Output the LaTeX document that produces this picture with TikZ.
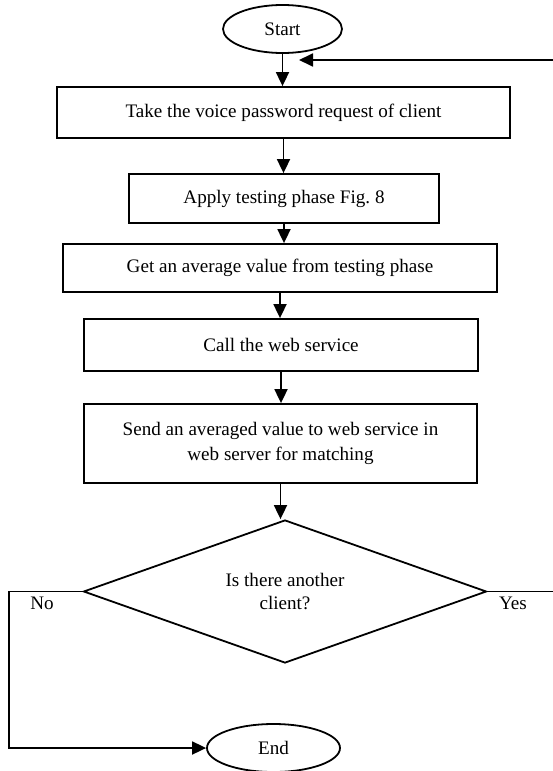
\documentclass[tikz,border=0pt]{standalone}
\usepackage{fontspec}
\setmainfont{Liberation Serif}
\usetikzlibrary{shapes.geometric,arrows.meta}
\tikzset{
  base/.style={draw=black, line width=1.8pt, inner sep=0pt, font=\fontsize{19.1}{25}\selectfont, align=center},
  term/.style={base, ellipse, minimum width=#1, minimum height=48pt},
  procbox/.style 2 args={base, rectangle, minimum width=#1, minimum height=#2},
  decision/.style={base, diamond, aspect=2.82, minimum width=403pt, minimum height=143pt, font=\fontsize{19.1}{23}\selectfont},
  conn/.style={line width=1.8pt, -{Triangle[length=14pt,width=13pt]}},
  lbl/.style={font=\fontsize{19.1}{24.5}\selectfont, inner sep=0pt}
}
\begin{document}
\begin{tikzpicture}[x=1pt,y=-1pt]
\useasboundingbox[fill=white] (0,0) rectangle (552,771);
\node[term=119pt] (start) at (282.5,29) {Start};
\node[procbox={453pt}{51pt}] (b1) at (283.5,112.5) {Take the voice password request of client};
\node[procbox={310pt}{49pt}] (b2) at (284,198.5) {Apply testing phase Fig.\ 8};
\node[procbox={434pt}{48pt}] (b3) at (280,268) {Get an average value from testing phase};
\node[procbox={394pt}{52pt}] (b4) at (281,345) {Call the web service};
\node[procbox={393pt}{79pt}] (b5) at (280.5,443.5) {Send an averaged value to web service in\\web server for matching};
\node[decision] (dia) at (285,591.5) {Is there another\\client?};
\node[term=133pt] (end) at (273.5,748) {End};
\coordinate (ret) at (299,60);
\coordinate (yr) at (560,591.5);
\coordinate (yt) at (560,60);
\coordinate (nl) at (9,591.5);
\coordinate (nb) at (9,748);

\draw[conn] (start.south) -- (start.south |- b1.north);
\draw[conn] (b1.south) -- (b1.south |- b2.north);
\draw[conn] (b2.south) -- (b2.south |- b3.north);
\draw[conn] (b3.south) -- (b3.south |- b4.north);
\draw[conn] (b4.south) -- (b4.south |- b5.north);
\draw[conn] (b5.south) -- (b5.south |- dia.north);
\draw[conn] (dia.east) -- (yr) -- (yt) -- (ret);
\draw[conn] (dia.west) -- (nl) -- (nb) -- (end.west);
\node[lbl] (no) at (42,603) {No};
\node[lbl] (yes) at (513,603) {Yes};
\end{tikzpicture}
\end{document}
